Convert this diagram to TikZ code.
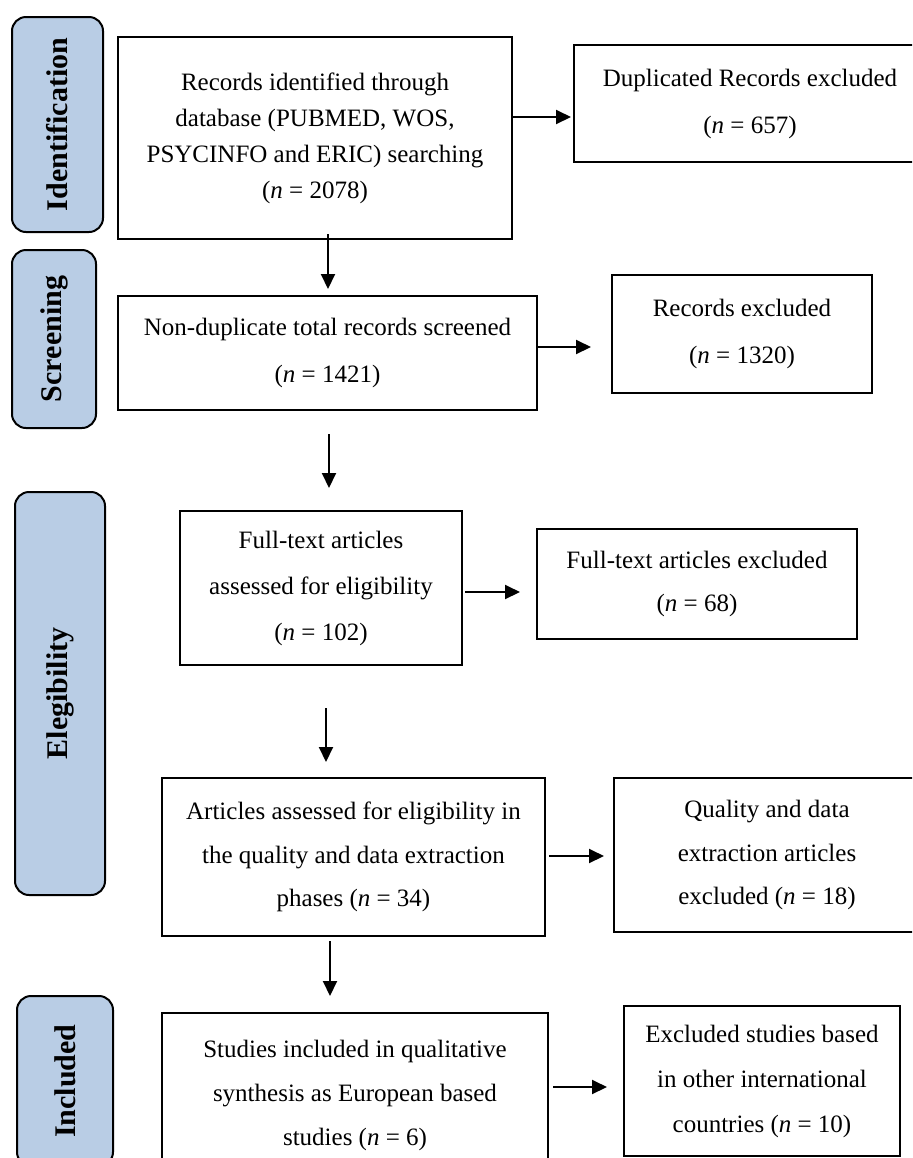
\documentclass[tikz,border=0pt]{standalone}
\usepackage{fontspec}
\setmainfont{Liberation Serif}
\usetikzlibrary{arrows.meta}
\definecolor{lblue}{HTML}{B9CDE5}
\tikzset{
  box/.style={draw, line width=1pt, inner sep=0pt, align=center},
  phase/.style={draw, line width=1pt, fill=lblue, rounded corners=7pt, rotate=90, inner sep=0pt,
    font=\bfseries\fontsize{15}{18}\selectfont},
  arr/.style={-{Triangle[length=7.5pt,width=7pt]}, line width=1pt},
}
\begin{document}
\begin{tikzpicture}[x=0.5pt,y=-0.5pt]
\clip (0,0) rectangle (912,1158);
\fill[white] (0,0) rectangle (912,1158);
% phase labels
\node[phase, minimum width=107.5pt, minimum height=45.5pt] (L1) at (57.5,124.5) {Identification};
\node[phase, minimum width=89pt, minimum height=42pt] (L2) at (54,339) {Screening};
\node[phase, minimum width=201.5pt, minimum height=45pt] (L3) at (60,693.5) {Elegibility};
\node[phase, minimum width=85pt, minimum height=48pt] (L4) at (65,1081) {Included};
% boxes
\node[box, minimum width=197pt, minimum height=101pt, font=\fontsize{12.5}{18}\selectfont] (B1) at (315,138)
  {Records identified through\\database (PUBMED, WOS,\\PSYCINFO and ERIC) searching\\(\textit{n} = 2078)};
\node[box, minimum width=176pt, minimum height=58.5pt, font=\fontsize{12.5}{23.5}\selectfont] (Dup) at (750,103.5)
  {Duplicated Records excluded\\(\textit{n} = 657)};
\node[box, minimum width=209.5pt, minimum height=57pt, font=\fontsize{12.5}{23.5}\selectfont] (B2) at (327.5,353)
  {Non-duplicate total records screened\\(\textit{n} = 1421)};
\node[box, minimum width=130pt, minimum height=59pt, font=\fontsize{12.5}{23.5}\selectfont] (RE) at (742,334)
  {Records excluded\\(\textit{n} = 1320)};
\node[box, minimum width=141pt, minimum height=77pt, font=\fontsize{12.5}{23}\selectfont] (B3) at (321,588)
  {Full-text articles\\assessed for eligibility\\(\textit{n} = 102)};
\node[box, minimum width=160pt, minimum height=55pt, font=\fontsize{12.5}{21.5}\selectfont] (FT) at (697,584)
  {Full-text articles excluded\\(\textit{n} = 68)};
\node[box, minimum width=191.5pt, minimum height=79pt, font=\fontsize{12.5}{21.75}\selectfont] (B4) at (353.5,857)
  {Articles assessed for eligibility in\\the quality and data extraction\\phases (\textit{n} = 34)};
\node[box, minimum width=153pt, minimum height=77pt, font=\fontsize{12.5}{21.75}\selectfont] (Q) at (767,855)
  {Quality and data\\extraction articles\\excluded (\textit{n} = 18)};
\node[box, minimum width=193pt, minimum height=82.5pt, font=\fontsize{12.5}{22}\selectfont] (B5) at (355,1095.5)
  {Studies included in qualitative\\synthesis as European based\\studies (\textit{n} = 6)};
\node[box, minimum width=138pt, minimum height=75pt, font=\fontsize{12.5}{22.5}\selectfont] (EX) at (762,1081)
  {Excluded studies based\\in other international\\countries (\textit{n} = 10)};
% arrows
\draw[arr, shorten >=1pt] (B1.east |- 0,117) -- (Dup.west |- 0,117);
\draw[arr, shorten <=-3pt, shorten >=3pt] (B1.south -| 328,0) -- (B2.north -| 328,0);
\draw[arr, shorten >=10pt] (B2.east |- 0,347) -- (RE.west |- 0,347);
\draw[arr, shorten <=11.5pt, shorten >=11pt] (B2.south -| 329,0) -- (B3.north -| 329,0);
\draw[arr, shorten <=1pt, shorten >=8pt] (B3.east |- 0,592) -- (FT.west |- 0,592);
\draw[arr, shorten <=21pt, shorten >=7.5pt] (B3.south -| 326,0) -- (B4.north -| 326,0);
\draw[arr, shorten <=1.5pt, shorten >=4.5pt] (B4.east |- 0,856) -- (Q.west |- 0,856);
\draw[arr, shorten <=2pt, shorten >=8pt] (B4.south -| 330,0) -- (B5.north -| 330,0);
\draw[arr, shorten <=2pt, shorten >=8pt] (B5.east |- 0,1087) -- (EX.west |- 0,1087);
\end{tikzpicture}
\end{document}
